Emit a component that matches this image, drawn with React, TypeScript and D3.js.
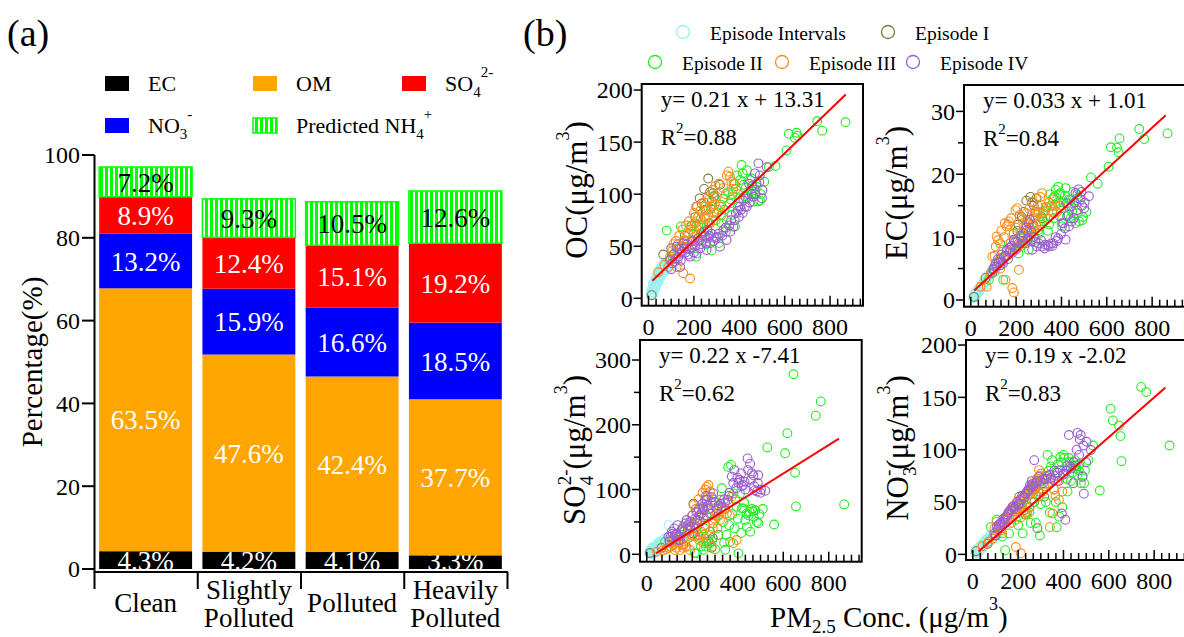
import React from "react";
import * as d3 from "d3";

const FONT = "'Liberation Serif', 'Times New Roman', serif";

// ---------- panel (a): PM2.5 composition by pollution level ----------
const categories = ["Clean", "Slightly Polluted", "Polluted", "Heavily Polluted"];
const categoryLines = [["Clean"], ["Slightly", "Polluted"], ["Polluted"], ["Heavily", "Polluted"]];
const components = ["EC", "OM", "NO3", "SO4", "NH4"];
const ecPct = [4.3, 4.2, 4.1, 3.3];
const omPct = [63.5, 47.6, 42.4, 37.7];
const no3Pct = [13.2, 15.9, 16.6, 18.5];
const so4Pct = [8.9, 12.4, 15.1, 19.2];
const nh4Pct = [7.2, 9.3, 10.5, 12.6];
const percentTicks = [0, 20, 40, 60, 80, 100];

const compColor: Record<string, string> = {
  EC: "#000000",
  OM: "#ffa500",
  NO3: "#0000ff",
  SO4: "#ff0000",
  NH4: "url(#nh4stripe)",
};

// ---------- panel (b): species vs PM2.5 ----------
// each sample: [PM2.5, OC, EC, SO4, NO3]  (ug/m3)
type Sample = [number, number, number, number, number];

const intervalSamples: Sample[] = [
  [10, 3, 0.3, 2, 1], [14, 6, 0.6, 4, 3], [18, 9, 0.8, 1, 2], [21, 12, 1.0, 6, 4],
  [24, 5, 0.6, 3, 2], [27, 15, 1.3, 8, 5], [31, 10, 1.1, 2, 4], [34, 18, 1.6, 10, 6],
  [37, 13, 1.4, 5, 7], [41, 21, 2.0, 12, 8], [44, 16, 1.8, 4, 6], [47, 24, 2.3, 14, 9],
  [51, 19, 2.1, 8, 11], [54, 27, 2.7, 16, 10], [58, 22, 2.5, 6, 12], [62, 29, 3.1, 18, 13],
  [67, 25, 2.9, 10, 14], [73, 31, 3.5, 19, 12], [80, 27, 3.9, 14, 16], [88, 33, 4.4, 22, 17],
  [96, 30, 4.8, 45, 15], [108, 34, 5.6, 12, 19], [120, 32, 6.2, 16, 21],
  [12, 8, 0.5, 6, 2], [16, 4, 0.4, 1, 1], [20, 14, 1.2, 9, 5], [23, 8, 0.9, 4, 3],
  [26, 11, 1.0, 11, 6], [29, 18, 1.6, 3, 4], [33, 14, 1.3, 7, 8], [36, 22, 1.9, 13, 5],
  [39, 16, 1.7, 9, 9], [43, 25, 2.2, 6, 10], [46, 20, 2.0, 16, 7], [50, 28, 2.6, 10, 12],
  [53, 23, 2.4, 19, 9], [57, 30, 2.9, 12, 14], [60, 26, 2.8, 8, 11], [65, 33, 3.3, 20, 15],
  [70, 28, 3.2, 15, 16], [76, 35, 3.8, 24, 18], [84, 31, 4.2, 18, 14], [92, 36, 4.6, 26, 19],
];

const episode1Samples: Sample[] = [
  [14, 3, 0.5, 2, 3], [65, 42, 3.5, 10, 10], [100, 48, 5.0, 20, 18], [130, 52, 6.5, 30, 28],
  [160, 60, 8.0, 15, 40], [190, 70, 9.5, 40, 43], [205, 78, 11.0, 78, 55], [234, 91, 14.0, 50, 38],
  [250, 85, 12.5, 57, 45], [263, 115, 16.4, 60, 62], [271, 102, 15.5, 20, 50], [278, 93, 15.0, 35, 65],
  [285, 101, 14.0, 10, 25], [315, 109, 13.0, 30, 55],
  [210, 88, 12.0, 45, 48], [245, 105, 15.8, 70, 58], [225, 96, 13.2, 30, 42], [290, 98, 16.2, 25, 60],
];

const episode2Samples: Sample[] = [
  [80, 65, 3.2, 19.5, 26], [105, 40, 4.5, 12, 33], [130, 48, 9.0, 20, 17], [143, 69, 3.2, 27, 4],
  [160, 55, 7.0, 43, 20], [190, 69, 10.6, 27, 33], [210, 40, 7.4, 2, 45], [220, 69, 8.5, 1.5, 20],
  [238, 60, 9.0, 12, 46], [250, 88, 9.5, 7, 40], [265, 72, 10.1, 17, 58], [278, 46, 11.0, 17, 30],
  [286, 98, 9.6, 20, 70], [296, 75, 11.1, 84, 18], [310, 53, 13.3, 40, 71], [322, 72, 12.5, 84, 50],
  [330, 96, 14.3, 102, 95], [345, 75, 12.0, 7, 84], [358, 91, 15.0, 135, 62], [366, 80, 13.0, 19.5, 50],
  [370, 100, 16.5, 138, 26], [381, 69, 15.4, 94, 36], [386, 105, 18.0, 40, 93], [395, 88, 17.0, 73.5, 45],
  [403, 113.6, 11.7, 1.5, 92], [410, 128, 15.5, 94, 80], [418, 109, 17.8, 71, 60], [424, 98, 13.3, 71, 92],
  [433, 123, 16.0, 53, 70], [439, 100, 15.9, 63, 85], [447, 113.6, 14.0, 60, 84], [452, 105, 17.2, 66, 90],
  [462, 93, 12.2, 70, 76], [468, 100, 13.8, 66, 80], [477, 107, 12.5, 68, 68], [484, 93, 16.4, 50, 75],
  [491, 94, 12.7, 48, 68],
  [200, 62, 8.0, 30, 28], [230, 76, 9.8, 25, 38], [260, 65, 11.5, 12, 52], [275, 86, 12.0, 30, 62],
  [300, 82, 12.5, 60, 66], [318, 90, 13.8, 75, 75], [335, 85, 14.8, 50, 80], [350, 102, 16.8, 30, 90],
  [362, 95, 16.2, 45, 78], [375, 110, 17.5, 62, 86], [390, 118, 16.8, 85, 88], [400, 96, 14.6, 55, 95],
  [415, 120, 16.6, 33, 72], [428, 106, 15.0, 80, 88], [440, 96, 13.0, 42, 78], [455, 115, 15.8, 35, 82],
  [470, 104, 16.8, 58, 86], [495, 100, 13.2, 62, 80], [510, 112, 14.0, 70, 90], [340, 64, 11.0, 18, 40],
  [300, 58, 10.5, 8, 48], [255, 52, 8.0, 40, 30],
  [530, 126, 19.5, 165, 104], [560, 127, 18.5, 46, 61], [608, 142, 21.2, 156, 139],
  [618, 158, 24.3, 187, 128], [645, 154, 24.2, 278, 123], [652, 159, 23.5, 126, 113],
  [656, 156, 25.7, 74, 89], [743, 170, 27.2, 214, 160], [765, 161, 25.6, 236, 155],
  [868, 169, 26.5, 77, 104],
];

const episode3Samples: Sample[] = [
  [43, 25, 2.1, 4, 8], [70, 32, 2.1, 6, 12], [87, 30, 4.2, 8, 15], [95, 40, 6.9, 10, 25],
  [105, 46, 7.0, 12, 31], [114, 43, 10.1, 15, 28], [124, 30, 6.0, 6.6, 23], [139, 43, 8.0, 20, 30],
  [146, 50, 10.0, 6.6, 35], [153, 24, 3.2, 15, 33], [158, 56, 11.7, 10, 40], [168, 49.6, 12.5, 20, 42],
  [175, 62, 9.0, 11.7, 45.5], [183, 19, 1.9, 25, 38], [190, 56, 1.2, 6.6, 7], [197, 64, 14.3, 30, 50],
  [205, 72, 14.6, 76, 52], [212, 68.8, 4.8, 40, 1], [219, 78, 9.0, 53, 46], [234, 70, 10.0, 27, 58],
  [241, 72, 12.0, 35, 39], [249, 78.4, 12.7, 17, 58], [256, 84.8, 11.0, 45, 62], [263, 80, 11.1, 104, 65],
  [271, 72, 12.0, 107, 63], [278, 88, 11.7, 97, 65], [285, 75, 13.0, 11.7, 70], [292, 90, 13.5, 48, 80.5],
  [300, 97.6, 14.0, 55, 77], [307, 85, 16.4, 63, 72], [315, 88, 17.0, 60, 65], [322, 80, 14.0, 53, 74],
  [340, 100, 13.0, 70, 26], [352, 121.6, 15.0, 63, 39], [359, 116.8, 14.0, 80, 62], [373, 105, 15.0, 89, 70],
  [380, 110, 14.0, 17, 52], [395, 100, 15.0, 22, 60],
  [110, 52, 8.5, 18, 22], [120, 55, 9.5, 25, 26], [135, 60, 11.0, 30, 29], [150, 66, 12.2, 35, 34],
  [165, 70, 12.0, 28, 38], [178, 74, 13.0, 45, 41], [188, 66, 10.5, 50, 44], [200, 82, 11.5, 60, 48],
  [215, 88, 13.5, 70, 50], [228, 84, 12.8, 85, 55], [245, 92, 13.8, 95, 57], [258, 96, 14.5, 100, 60],
  [268, 95, 15.6, 90, 68], [282, 104, 14.0, 80, 72], [295, 108, 15.0, 75, 75], [310, 110, 15.2, 58, 60],
  [330, 106, 14.8, 66, 68], [345, 118, 15.5, 70, 72], [365, 112, 16.0, 60, 56], [230, 62, 9.0, 22, 40],
  [170, 55, 7.5, 12, 30], [130, 38, 5.0, 10, 20], [250, 76, 10.0, 30, 45], [290, 82, 12.0, 40, 55],
  [210, 60, 8.5, 28, 35],
];

const episode4Samples: Sample[] = [
  [95, 36.8, 4.3, 27, 20], [105, 33.6, 5.3, 27, 26], [114, 35, 5.3, 32, 28], [124, 49.6, 6.0, 30, 30],
  [131, 40, 5.5, 32, 31], [139, 30, 6.1, 22, 33], [146, 45, 6.9, 22, 36], [153, 52.8, 7.0, 37.5, 38],
  [164, 44, 6.5, 35, 42], [175, 42, 8.0, 53, 45], [183, 40, 7.5, 45, 44], [190, 48, 9.6, 42.6, 46],
  [205, 50, 9.2, 32, 48.7], [212, 43, 9.0, 55, 52], [223, 55, 10.0, 53, 55], [232, 52, 10.6, 60, 58],
  [240, 56, 9.0, 63, 60], [248, 60, 11.1, 73.5, 61], [256, 46.4, 12.2, 84, 64], [263, 58, 9.5, 84, 67],
  [271, 52.8, 8.0, 70, 90], [278, 62, 10.0, 63, 68], [292, 58, 8.5, 94, 74], [300, 59, 9.0, 80, 70],
  [315, 49.6, 8.5, 75, 72], [330, 65.6, 8.8, 73.5, 75], [344, 56, 8.5, 80, 73], [355, 70, 9.0, 84, 71],
  [364, 75, 9.0, 95, 75], [374, 68.8, 10.0, 120, 78], [385, 81.6, 9.8, 130, 80.5], [393, 84, 13.3, 102, 39],
  [403, 88, 12.2, 110, 77], [408, 85, 12.2, 115, 33], [418, 94, 9.6, 105, 85], [424, 88, 15.4, 107, 114],
  [433, 88, 11.7, 100, 82], [443, 110, 14.9, 148, 68], [454, 100, 13.0, 140, 85], [462, 97.6, 17.0, 125, 116],
  [469, 120, 14.3, 122, 95], [476, 110, 17.6, 99, 114], [484, 129.6, 16.0, 97, 74], [490, 118, 15.0, 122, 58],
  [502, 104, 15.5, 100, 107.6], [521, 126, 16.5, 98, 99.7],
  [100, 28, 4.8, 20, 18], [110, 42, 5.8, 35, 24], [120, 38, 6.5, 40, 29], [135, 47, 7.2, 45, 34],
  [142, 36, 5.8, 28, 30], [158, 48, 7.8, 40, 40], [170, 52, 8.3, 48, 43], [180, 47, 8.6, 38, 46],
  [195, 55, 9.2, 50, 50], [200, 44, 8.2, 60, 47], [218, 58, 10.2, 65, 56], [228, 48, 9.4, 70, 54],
  [245, 64, 11.5, 78, 62], [252, 53, 9.8, 68, 66], [260, 66, 12.8, 90, 70], [268, 60, 10.8, 75, 65],
  [285, 55, 9.2, 88, 70], [310, 62, 9.5, 70, 68], [325, 60, 8.2, 78, 72], [340, 68, 8.7, 85, 76],
  [360, 64, 8.6, 90, 80], [380, 75, 9.4, 110, 70], [398, 78, 10.5, 118, 76], [415, 82, 11.4, 125, 80],
  [430, 96, 13.5, 112, 84], [445, 92, 12.5, 130, 88], [458, 108, 15.5, 115, 100], [472, 100, 16.2, 105, 110],
  [488, 112, 17.2, 110, 104], [500, 96, 14.6, 95, 88],
];

const episodes = [
  { name: "Episode Intervals", color: "#99f2f2", samples: intervalSamples },
  { name: "Episode I", color: "#7f7a3a", samples: episode1Samples },
  { name: "Episode II", color: "#22ee22", samples: episode2Samples },
  { name: "Episode III", color: "#ff8c1a", samples: episode3Samples },
  { name: "Episode IV", color: "#9a5fd0", samples: episode4Samples },
];

const pmDomain = [-30, 945];
const pmTicks = [0, 200, 400, 600, 800];

const panels = [
  { col: 1, x0: 641.7, y0: 84, w: 221.3, h: 221.7, yDomain: [-7.1, 205.8], yTicks: [0, 50, 100, 150, 200], yMinor: [] as number[],
    slope: 0.21, intercept: 13.31, fit: [17, 869], eq: "y= 0.21 x + 13.31", r2: "=0.88", title: "OC", tx: 587, ty: 190 },
  { col: 2, x0: 964, y0: 85, w: 221, h: 221.7, yDomain: [-1.07, 34.2], yTicks: [0, 10, 20, 30], yMinor: [5, 15, 25],
    slope: 0.033, intercept: 1.01, fit: [15, 860], eq: "y= 0.033 x + 1.01", r2: "=0.84", title: "EC", tx: 907, ty: 193 },
  { col: 3, x0: 640, y0: 340, w: 221.7, h: 221.7, yDomain: [-11.4, 330.9], yTicks: [0, 100, 200, 300], yMinor: [50, 150, 250],
    slope: 0.22, intercept: -7.41, fit: [40, 845], eq: "y= 0.22 x -7.41", r2: "=0.62", title: "SO4", tx: 585, ty: 450 },
  { col: 4, x0: 966, y0: 340, w: 221, h: 220, yDomain: [-5.4, 204.8], yTicks: [0, 50, 100, 150, 200], yMinor: [] as number[],
    slope: 0.19, intercept: -2.02, fit: [25, 850], eq: "y= 0.19 x -2.02", r2: "=0.83", title: "NO3", tx: 908, ty: 448 },
];

function YTitle({ kind }: { kind: string }) {
  if (kind === "SO4" || kind === "NO3")
    return (
      <>
        <tspan>{kind === "SO4" ? "SO" : "NO"}</tspan>
        <tspan fontSize={19} dy={8}>{kind === "SO4" ? "4" : "3"}</tspan>
        <tspan fontSize={19} dx={-9.5} dy={-22}>{kind === "SO4" ? "2-" : "-"}</tspan>
        <tspan dy={14}>(μg/m</tspan>
        <tspan fontSize={18} dy={-18}>3</tspan>
        <tspan dy={18}>)</tspan>
      </>
    );
  return (
    <>
      <tspan>{kind}(μg/m</tspan>
      <tspan fontSize={18} dy={-18}>3</tspan>
      <tspan dy={18}>)</tspan>
    </>
  );
}

function ScatterPanel({ p }: { p: (typeof panels)[number] }) {
  const x = d3.scaleLinear().domain(pmDomain).range([p.x0, p.x0 + p.w]);
  const y = d3.scaleLinear().domain(p.yDomain).range([p.y0 + p.h, p.y0]);
  const fitLine = d3
    .line<number>()
    .x((d) => x(d))
    .y((d) => y(p.slope * d + p.intercept));
  const bottom = p.y0 + p.h;
  const minorX = d3.range(0, 941, 200 / 6);
  return (
    <g>
      {episodes.map((ep) => (
        <g key={ep.name}>
          {ep.samples.map((s, i) => (
            <circle key={i} cx={x(s[0])} cy={y(s[p.col])} r={4.4} fill="none" stroke={ep.color} strokeWidth={1.1} />
          ))}
        </g>
      ))}
      <path d={fitLine(p.fit) || ""} fill="none" stroke="#ff0000" strokeWidth={2} />
      <rect x={p.x0} y={p.y0} width={p.w} height={p.h} fill="none" stroke="#000" strokeWidth={2} />
      {minorX.map((v, i) => {
        const major = i % 6 === 0;
        return (
          <line key={i} x1={x(v)} x2={x(v)} y1={bottom} y2={bottom - (major ? 10 : 7)} stroke="#000" strokeWidth={1.5} />
        );
      })}
      {pmTicks.map((v) => (
        <text key={v} x={x(v)} y={bottom + 29} textAnchor="middle" fontSize={24}>
          {v}
        </text>
      ))}
      {p.yTicks.map((v) => (
        <g key={v}>
          <line x1={p.x0} x2={p.x0 - 8} y1={y(v)} y2={y(v)} stroke="#000" strokeWidth={1.5} />
          <text x={p.x0 - 9} y={y(v)} dy="0.35em" textAnchor="end" fontSize={24}>
            {v}
          </text>
        </g>
      ))}
      {p.yMinor.map((v) => (
        <line key={v} x1={p.x0} x2={p.x0 - 6} y1={y(v)} y2={y(v)} stroke="#000" strokeWidth={1.5} />
      ))}
      <text x={p.x0 + 19} y={p.y0 + 23} fontSize={23}>
        {p.eq}
      </text>
      <text x={p.x0 + 19} y={p.y0 + 61} fontSize={23}>
        <tspan>R</tspan>
        <tspan fontSize={15} dy={-12}>2</tspan>
        <tspan dy={12}>{p.r2}</tspan>
      </text>
      <text transform={`translate(${p.tx},${p.ty}) rotate(-90)`} textAnchor="middle" fontSize={31}>
        <YTitle kind={p.title} />
      </text>
    </g>
  );
}

export default function App() {
  const xBand = d3.scaleBand<string>().domain(categories).range([94, 507]).paddingInner(0.1).paddingOuter(0.05);
  const yPct = d3.scaleLinear().domain([0, 100]).range([569, 155]);
  const table = categories.map((c, i) => ({
    cat: c,
    EC: ecPct[i],
    OM: omPct[i],
    NO3: no3Pct[i],
    SO4: so4Pct[i],
    NH4: nh4Pct[i],
  }));
  const stacked = d3.stack<any>().keys(components)(table);
  const step = xBand.step();

  const legendA = [
    { key: "EC", sx: 105, sy: 76 },
    { key: "OM", sx: 253, sy: 76 },
    { key: "SO4", sx: 402, sy: 76 },
    { key: "NO3", sx: 105, sy: 118 },
    { key: "NH4", sx: 253, sy: 118 },
  ];
  const legendLabel = (k: string) => {
    const parts: Record<string, [string, string, string]> = {
      SO4: ["SO", "4", "2-"],
      NO3: ["NO", "3", "-"],
      NH4: ["Predicted NH", "4", "+"],
    };
    if (!parts[k]) return k;
    const [base, sub, sup] = parts[k];
    return (
      <>
        <tspan>{base}</tspan>
        <tspan fontSize={15} dy={6}>{sub}</tspan>
        <tspan fontSize={15} dy={-20}>{sup}</tspan>
      </>
    );
  };

  const legendB = [
    { i: 0, cx: 683, cy: 32 },
    { i: 1, cx: 888, cy: 32 },
    { i: 2, cx: 655, cy: 62 },
    { i: 3, cx: 782, cy: 62 },
    { i: 4, cx: 913, cy: 62 },
  ];

  return (
    <svg
      width={1184}
      height={637}
      style={{ position: "absolute", left: 0, top: 0, background: "#fff" }}
      fontFamily={FONT}
    >
      <defs>
        <pattern id="nh4stripe" width={5} height={10} patternUnits="userSpaceOnUse">
          <rect width={5} height={10} fill="#fff" />
          <rect width={3} height={10} fill="#00ff00" />
        </pattern>
        {categories.map((c, i) => (
          <clipPath id={"ecclip" + i} key={c}>
            <rect x={xBand(c)} y={yPct(ecPct[i])} width={xBand.bandwidth()} height={yPct(0) - yPct(ecPct[i])} />
          </clipPath>
        ))}
      </defs>

      {/* ---------------- (a) ---------------- */}
      <text x={7} y={46} fontSize={38}>(a)</text>

      {legendA.map((l) => (
        <g key={l.key}>
          <rect
            x={l.sx}
            y={l.sy}
            width={24}
            height={15}
            fill={compColor[l.key]}
            stroke={l.key === "NH4" ? "#00ff00" : "none"}
            strokeWidth={1.5}
          />
          <text x={l.sx + 43} y={l.sy + 15} fontSize={22}>
            {legendLabel(l.key)}
          </text>
        </g>
      ))}

      {stacked.map((layer) => (
        <g key={layer.key}>
          {layer.map((d, i) => (
            <rect
              key={i}
              x={xBand(categories[i])}
              y={yPct(d[1])}
              width={xBand.bandwidth()}
              height={yPct(d[0]) - yPct(d[1])}
              fill={compColor[layer.key as string]}
              stroke={layer.key === "NH4" ? "#00ff00" : "none"}
              strokeWidth={1.5}
            />
          ))}
        </g>
      ))}
      {stacked.map((layer) => (
        <g key={"lab" + layer.key}>
          {layer.map((d, i) => (
            <text
              key={i}
              x={(xBand(categories[i]) as number) + xBand.bandwidth() / 2}
              y={layer.key === "EC" ? yPct(0) + 0.5 : yPct((d[0] + d[1]) / 2)}
              dy={layer.key === "EC" ? "0" : "0.36em"}
              textAnchor="middle"
              fontSize={27}
              fill={layer.key === "NH4" ? "#000" : "#fff"}
              clipPath={layer.key === "EC" ? `url(#ecclip${i})` : undefined}
            >
              {(d[1] - d[0]).toFixed(1)}%
            </text>
          ))}
        </g>
      ))}

      {/* axes of (a) */}
      <line x1={94.5} x2={94.5} y1={155} y2={573} stroke="#000" strokeWidth={2} />
      {percentTicks.map((v) => (
        <g key={v}>
          <line x1={82} x2={94.5} y1={yPct(v)} y2={yPct(v)} stroke="#000" strokeWidth={2} />
          <text x={80} y={yPct(v)} dy="0.35em" textAnchor="end" fontSize={24}>
            {v}
          </text>
        </g>
      ))}
      <line x1={94} x2={508} y1={572} y2={572} stroke="#000" strokeWidth={2} />
      {d3.range(categories.length + 1).map((i) => (
        <line key={i} x1={94.5 + i * step} x2={94.5 + i * step} y1={572} y2={589} stroke="#000" strokeWidth={2} />
      ))}
      {categoryLines.map((lines, i) => {
        const cx = (xBand(categories[i]) as number) + xBand.bandwidth() / 2;
        return lines.length === 1 ? (
          <text key={i} x={cx} y={612} textAnchor="middle" fontSize={27}>
            {lines[0]}
          </text>
        ) : (
          <text key={i} x={cx} y={599} textAnchor="middle" fontSize={27}>
            <tspan x={cx}>{lines[0]}</tspan>
            <tspan x={cx} dy={28}>{lines[1]}</tspan>
          </text>
        );
      })}
      <text transform="translate(42,362) rotate(-90)" textAnchor="middle" fontSize={29}>
        Percentage(%)
      </text>

      {/* ---------------- (b) ---------------- */}
      <text x={523} y={46} fontSize={38}>(b)</text>
      {legendB.map((l) => (
        <g key={l.i}>
          <circle cx={l.cx} cy={l.cy} r={6.5} fill="none" stroke={episodes[l.i].color} strokeWidth={1.3} />
          <text x={l.cx + 27} y={l.cy + 8} fontSize={19.5}>
            {episodes[l.i].name}
          </text>
        </g>
      ))}

      {panels.map((p) => (
        <ScatterPanel key={p.col} p={p} />
      ))}

      <text x={770} y={627} fontSize={29}>
        <tspan>PM</tspan>
        <tspan fontSize={19} dy={6}>2.5</tspan>
        <tspan dy={-6}> Conc. (μg/m</tspan>
        <tspan fontSize={18} dy={-17}>3</tspan>
        <tspan dy={17}>)</tspan>
      </text>
    </svg>
  );
}
